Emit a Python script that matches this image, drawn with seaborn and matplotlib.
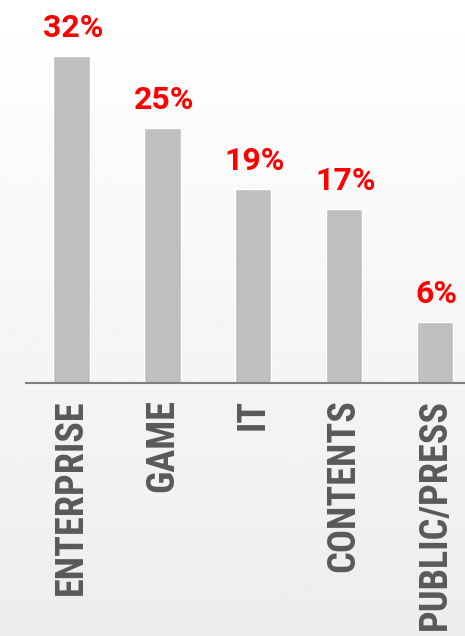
import numpy as np
import pandas as pd
import matplotlib
matplotlib.use("Agg")
import matplotlib.pyplot as plt
from matplotlib import font_manager
import seaborn as sns

categories = ["ENTERPRISE", "GAME", "IT", "CONTENTS", "PUBLIC/PRESS"]
shares = [32, 25, 19, 17, 6]
share_labels = [f"{v}%" for v in shares]

sns.set_theme(style="white")

available = {f.name for f in font_manager.fontManager.ttflist}
narrow_candidates = ["Liberation Sans Narrow", "Roboto Condensed",
                     "DejaVu Sans Condensed", "Open Sans Condensed",
                     "Noto Sans Condensed", "Roboto"]
tick_family = next(f for f in narrow_candidates if f in available)

W, H = 465, 636
fig = plt.figure(figsize=(W / 100, H / 100), dpi=100)

# soft vertical background gradient, white at the top to light grey at the bottom
bg = fig.add_axes([0, 0, 1, 1], zorder=-10)
grad = np.linspace(1.0, 0.93, 256).reshape(-1, 1)
bg.imshow(grad, aspect="auto", cmap="gray", vmin=0, vmax=1, extent=[0, 1, 0, 1])
bg.set_axis_off()

ax = fig.add_axes([26 / W, (H - 383) / H, (W - 26) / W, 383 / H])
ax.set_facecolor("none")

df = pd.DataFrame({"category": categories, "share": shares})
sns.barplot(data=df, x="category", y="share", color="#bfbfbf", width=0.4,
            saturation=1, ax=ax)

ax.set_xlim(-0.5, 4.33)
ax.set_ylim(0, 37.5)
ax.set_xlabel("")
ax.set_ylabel("")
ax.set_yticks([])

for side in ("left", "right", "top"):
    ax.spines[side].set_visible(False)
ax.spines["bottom"].set_color("#808080")
ax.spines["bottom"].set_linewidth(1.5)

# size the category labels so the longest upright word spans ~195 px
probe = fig.text(0, 0, "ENTERPRISE", fontsize=27, fontweight="bold",
                 family=tick_family)
renderer = fig.canvas.get_renderer()
probe_w = probe.get_window_extent(renderer).width
probe.remove()
tick_size = 27 * 195 / probe_w

ax.tick_params(axis="x", length=0, pad=11.5)
ax.set_xticks(range(len(categories)))
ax.set_xticklabels(categories, rotation=90, ha="center", va="top",
                   fontsize=tick_size, fontweight="bold", color="#595959",
                   family=tick_family)

for i, (v, lab) in enumerate(zip(shares, share_labels)):
    ax.annotate(lab, (i, v), xytext=(1, 13.7), textcoords="offset points",
                ha="center", va="baseline", fontsize=23, fontweight="bold",
                color="#ff0000", family="Roboto", annotation_clip=False)

fig.savefig("out.png", dpi=100)
